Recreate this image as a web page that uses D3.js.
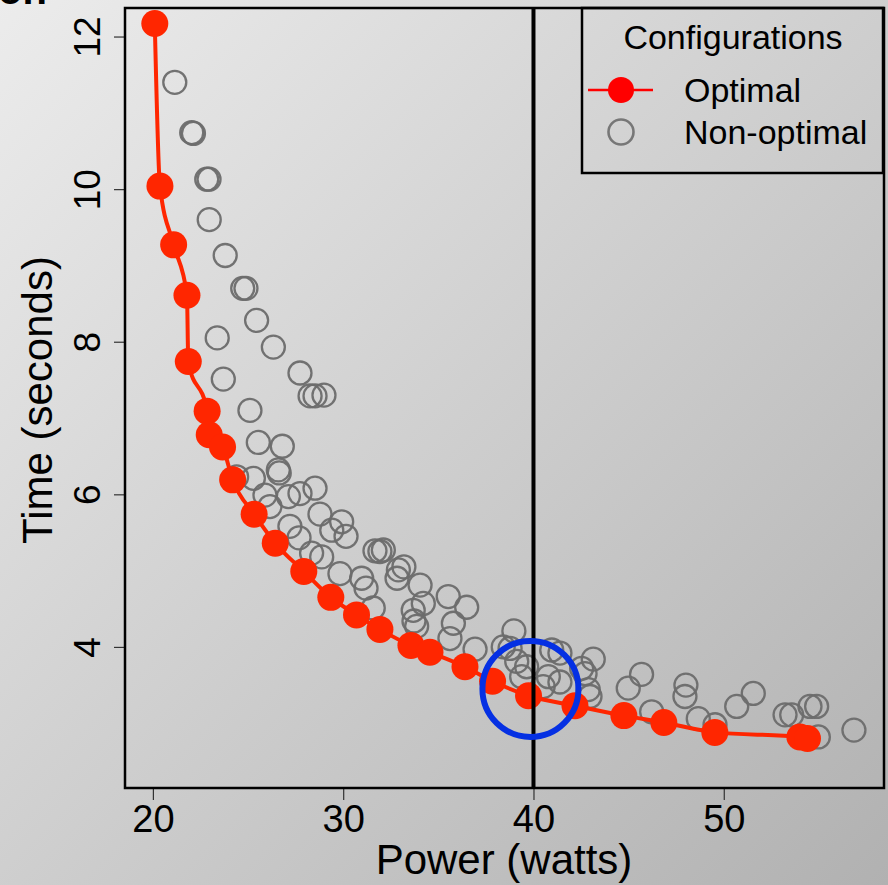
<!DOCTYPE html>
<html>
<head>
<meta charset="utf-8">
<script src="https://cdn.jsdelivr.net/npm/d3@7"></script>
<style>
  html, body { margin: 0; padding: 0; background: #d0d0d0; }
  svg { display: block; }
  text { font-family: "Liberation Sans", Arial, Helvetica, sans-serif; fill: #000; }
</style>
</head>
<body>
<svg id="chart" width="888" height="885"></svg>
<script>
// ---------- data ----------
const optimalPower = [20.1, 20.37, 21.09, 21.79, 21.86, 22.85, 22.96, 23.66, 24.19, 25.32, 26.43, 27.93, 29.35,
  30.70, 31.93, 33.56, 34.56, 36.40, 37.85, 39.74, 42.18, 44.75, 46.85, 49.53, 54.0, 54.4];
const optimalTime = [12.17, 10.04, 9.27, 8.61, 7.74, 7.09, 6.78, 6.62, 6.19, 5.74, 5.36, 4.99, 4.65,
  4.42, 4.23, 4.02, 3.93, 3.74, 3.55, 3.36, 3.23, 3.10, 3.01, 2.88, 2.82, 2.80];

const otherPower = [21.15, 22.04, 22.13, 22.83, 22.95, 22.96, 23.80, 24.72, 24.89, 25.45, 23.38, 26.33, 23.70,
  27.73, 28.26, 28.52, 28.99, 25.10, 25.54, 26.80, 26.59, 26.64, 24.40, 25.28, 25.89, 27.12, 27.73, 28.52,
  26.15, 28.78, 27.20, 27.68, 29.40, 29.92, 30.15, 31.67, 31.93, 32.11, 28.34, 28.87, 29.83, 30.97, 31.20,
  32.90, 33.19, 32.83, 34.04, 35.52, 36.49, 31.58, 33.68, 34.21, 33.72, 33.86, 35.79, 35.61, 36.93, 38.97,
  38.41, 38.77, 39.12, 39.64, 39.38, 40.96, 41.39, 43.14, 42.53, 40.78, 41.39, 40.51, 42.88, 42.71, 42.97,
  44.98, 45.68, 46.21, 48.01, 47.96, 48.66, 49.54, 50.68, 51.55, 53.22, 53.57, 54.53, 54.88, 54.97, 56.84];
const otherTime = [11.40, 10.74, 10.73, 10.13, 10.13, 9.60, 9.13, 8.70, 8.70, 8.28, 8.05, 7.93, 7.51,
  7.59, 7.29, 7.29, 7.30, 7.10, 6.68, 6.63, 6.32, 6.28, 6.23, 6.21, 5.99, 5.97, 6.01, 6.08,
  5.84, 5.74, 5.58, 5.43, 5.53, 5.64, 5.45, 5.26, 5.25, 5.27, 5.23, 5.18, 4.96, 4.90, 4.77,
  5.01, 5.05, 4.90, 4.81, 4.66, 4.52, 4.51, 4.48, 4.57, 4.34, 4.27, 4.31, 4.11, 3.97, 4.21,
  4.00, 3.98, 3.81, 3.74, 3.61, 3.96, 3.92, 3.84, 3.72, 3.61, 3.54, 3.48, 3.44, 3.65, 3.35,
  3.46, 3.64, 3.15, 3.50, 3.35, 3.06, 2.98, 3.22, 3.39, 3.11, 3.11, 3.22, 3.22, 2.82, 2.91];

const xTicks = [20, 30, 40, 50];
const yTicks = [4, 6, 8, 10, 12];
const powerCap = [40];
const highlight = [{ power: 39.84, time: 3.45 }];
const legendItems = ["Optimal", "Non-optimal"];

// ---------- layout ----------
const W = 888, H = 885;
const plot = { left: 125, right: 884, top: 8, bottom: 788 };
const RED = "#ff2600";

const svg = d3.select("#chart");
const defs = svg.append("defs");
const grad = defs.append("linearGradient").attr("id", "bg")
  .attr("x1", "0").attr("y1", "0").attr("x2", "1").attr("y2", "1");
grad.append("stop").attr("offset", "0%").attr("stop-color", "#ececec");
grad.append("stop").attr("offset", "100%").attr("stop-color", "#b1b1b1");
svg.append("rect").attr("width", W).attr("height", H).attr("fill", "url(#bg)");

const x = d3.scaleLinear().domain([18.534, 58.42]).range([plot.left, plot.right]);
const y = d3.scaleLinear().domain([2.151, 12.374]).range([plot.bottom, plot.top]);

// cropped title fragment at the very top
svg.append("text").attr("x", -2).attr("y", 4)
  .attr("font-size", 40).attr("font-weight", "bold").text("on");

// axes
const xAxis = d3.axisBottom(x).tickValues(xTicks).tickSize(12).tickPadding(5).tickFormat(d3.format("d"));
const gx = svg.append("g").attr("transform", `translate(0,${plot.bottom})`).call(xAxis);
gx.select(".domain").remove();
gx.selectAll(".tick line").attr("stroke", "#333").attr("stroke-width", 1.2);
gx.selectAll(".tick text").attr("font-size", 38).attr("dy", "0.71em")
  .attr("font-family", "Liberation Sans, Arial, sans-serif").attr("fill", "#000");

const yAxis = d3.axisLeft(y).tickValues(yTicks).tickSize(11).tickPadding(6).tickFormat(d3.format("d"));
const gy = svg.append("g").attr("transform", `translate(${plot.left},0)`).call(yAxis);
gy.select(".domain").remove();
gy.selectAll(".tick line").attr("stroke", "#333").attr("stroke-width", 1.2);
gy.selectAll(".tick text")
  .attr("font-size", 37).attr("font-family", "Liberation Sans, Arial, sans-serif").attr("fill", "#000")
  .attr("x", null).attr("dy", null)
  .attr("text-anchor", "middle")
  .attr("transform", "translate(-25,0) rotate(-90)");

// axis titles
svg.append("text").attr("x", 504).attr("y", 874).attr("text-anchor", "middle")
  .attr("font-size", 42).text("Power (watts)");
svg.append("text").attr("transform", `translate(52,400) rotate(-90)`)
  .attr("text-anchor", "middle").attr("font-size", 42).text("Time (seconds)");

// non-optimal points
const others = otherPower.map((p, i) => ({ power: p, time: otherTime[i] }));
svg.append("g").selectAll("circle").data(others).join("circle")
  .attr("cx", d => x(d.power)).attr("cy", d => y(d.time)).attr("r", 11.5)
  .attr("fill", "none").attr("stroke", "#6c6c6c").attr("stroke-width", 2.3).attr("stroke-opacity", 0.95);

// optimal frontier
const optimal = optimalPower.map((p, i) => ({ power: p, time: optimalTime[i] }));
svg.append("path").datum(optimal)
  .attr("d", d3.line().x(d => x(d.power)).y(d => y(d.time)).curve(d3.curveMonotoneX))
  .attr("fill", "none").attr("stroke", RED).attr("stroke-width", 4);
svg.append("g").selectAll("circle").data(optimal).join("circle")
  .attr("cx", d => x(d.power)).attr("cy", d => y(d.time)).attr("r", 13.5).attr("fill", RED);

// power cap line
svg.append("g").selectAll("line").data(powerCap).join("line")
  .attr("x1", d => x(d)).attr("x2", d => x(d)).attr("y1", plot.top).attr("y2", plot.bottom)
  .attr("stroke", "#000").attr("stroke-width", 4);

// highlight ring
svg.append("g").selectAll("circle").data(highlight).join("circle")
  .attr("cx", d => x(d.power)).attr("cy", d => y(d.time)).attr("r", 48)
  .attr("fill", "none").attr("stroke", "#0530e3").attr("stroke-width", 6);

// frame
svg.append("rect").attr("x", plot.left).attr("y", plot.top)
  .attr("width", plot.right - plot.left).attr("height", plot.bottom - plot.top)
  .attr("fill", "none").attr("stroke", "#000").attr("stroke-width", 2.5);

// legend
const lg = svg.append("g");
lg.append("rect").attr("x", 582).attr("y", 8).attr("width", 301).attr("height", 165)
  .attr("fill", "none").attr("stroke", "#000").attr("stroke-width", 2.5);
lg.append("text").attr("x", 733).attr("y", 49).attr("text-anchor", "middle")
  .attr("font-size", 34).text("Configurations");
lg.append("line").attr("x1", 588).attr("x2", 653).attr("y1", 90).attr("y2", 90)
  .attr("stroke", "#ff0000").attr("stroke-width", 2.5);
lg.append("circle").attr("cx", 621).attr("cy", 90).attr("r", 13).attr("fill", "#ff0000");
lg.append("circle").attr("cx", 621).attr("cy", 132).attr("r", 12.5)
  .attr("fill", "none").attr("stroke", "#777").attr("stroke-width", 2.6);
lg.selectAll("text.item").data(legendItems).join("text").attr("class", "item")
  .attr("x", 684).attr("y", (d, i) => 102 + i * 42).attr("font-size", 34).text(d => d);
</script>
</body>
</html>
